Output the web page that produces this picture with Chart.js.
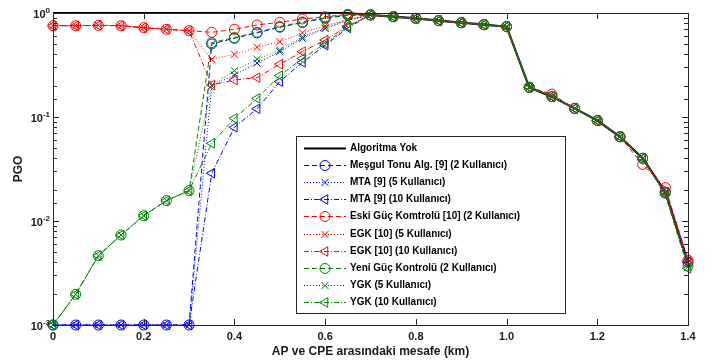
<!DOCTYPE html>
<html>
<head>
<meta charset="utf-8">
<script src="https://cdn.jsdelivr.net/npm/chart.js@4.4.1/dist/chart.umd.min.js"></script>
<style>
    html, body { margin: 0; padding: 0; background: #fff; }
    #wrap { width: 722px; height: 360px; }
</style>
</head>
<body>
<div id="wrap"><canvas id="pgo-chart" width="722" height="360"></canvas></div>
<script>
// AP - CPE distance (km)
const distances = [0, 0.05, 0.1, 0.15, 0.2, 0.25, 0.3, 0.35, 0.4, 0.45, 0.5, 0.55, 0.6, 0.65,
    0.7, 0.75, 0.8, 0.85, 0.9, 0.95, 1, 1.05, 1.1, 1.15, 1.2, 1.25, 1.3, 1.35, 1.4];
const xTickValues = [0, 0.2, 0.4, 0.6, 0.8, 1, 1.2, 1.4];
const yDecades = [0, -1, -2, -3];

// PGO values
const noAlgorithm = [1, 1, 1, 1, 1, 1, 1, 1, 1, 1, 1, 1, 1, 1,
    0.957, 0.922, 0.889, 0.844, 0.807, 0.772, 0.739, 0.193, 0.157, 0.121, 0.0925, 0.0646, 0.0401, 0.019, 0.0040];

const mtaUsers2 = [0.001, 0.001, 0.001, 0.001, 0.001, 0.001, 0.001, 0.504, 0.571, 0.645, 0.73, 0.81, 0.89, 0.95,
    0.957, 0.922, 0.889, 0.844, 0.807, 0.772, 0.739, 0.193, 0.157, 0.121, 0.0925, 0.0646, 0.0401, 0.019, 0.0040];
const mtaUsers5 = [0.001, 0.001, 0.001, 0.001, 0.001, 0.001, 0.001, 0.20, 0.253, 0.33, 0.425, 0.57, 0.71, 0.85,
    0.957, 0.922, 0.889, 0.844, 0.807, 0.772, 0.739, 0.193, 0.157, 0.121, 0.0925, 0.0646, 0.0401, 0.019, 0.0040];
const mtaUsers10 = [0.001, 0.001, 0.001, 0.001, 0.001, 0.001, 0.001, 0.0288, 0.0796, 0.12, 0.219, 0.335, 0.49, 0.72,
    0.957, 0.922, 0.889, 0.844, 0.807, 0.772, 0.739, 0.193, 0.157, 0.121, 0.0925, 0.0646, 0.0401, 0.019, 0.0040];

const egkUsers2 = [0.755, 0.755, 0.761, 0.755, 0.723, 0.697, 0.676, 0.652, 0.697, 0.767, 0.815, 0.876, 0.92, 0.97,
    0.96, 0.922, 0.889, 0.844, 0.807, 0.772, 0.739, 0.193, 0.166, 0.121, 0.0925, 0.0646, 0.035, 0.021, 0.0042];
const egkUsers5 = [0.755, 0.755, 0.761, 0.755, 0.723, 0.697, 0.676, 0.359, 0.401, 0.468, 0.53, 0.645, 0.75, 0.87,
    0.957, 0.922, 0.889, 0.844, 0.807, 0.772, 0.739, 0.193, 0.157, 0.121, 0.0925, 0.0646, 0.0401, 0.019, 0.0040];
const egkUsers10 = [0.755, 0.755, 0.761, 0.755, 0.723, 0.697, 0.676, 0.203, 0.227, 0.239, 0.322, 0.425, 0.55, 0.75,
    0.957, 0.922, 0.889, 0.844, 0.807, 0.772, 0.739, 0.193, 0.157, 0.121, 0.0925, 0.0646, 0.0401, 0.019, 0.0041];

const ygkUsers2 = [0.001, 0.00197, 0.00464, 0.00733, 0.01125, 0.0157, 0.0196, 0.52, 0.58, 0.652, 0.74, 0.82, 0.90, 0.96,
    0.957, 0.922, 0.889, 0.844, 0.807, 0.772, 0.739, 0.193, 0.157, 0.121, 0.0925, 0.0646, 0.0401, 0.0185, 0.0037];
const ygkUsers5 = [0.001, 0.00197, 0.00464, 0.00733, 0.01125, 0.0157, 0.0196, 0.20, 0.279, 0.359, 0.441, 0.59, 0.72, 0.86,
    0.957, 0.922, 0.889, 0.844, 0.807, 0.772, 0.739, 0.193, 0.157, 0.121, 0.0925, 0.0646, 0.0401, 0.0182, 0.0036];
const ygkUsers10 = [0.001, 0.00197, 0.00464, 0.00733, 0.01125, 0.0157, 0.0196, 0.0558, 0.097, 0.151, 0.25, 0.365, 0.51, 0.74,
    0.957, 0.922, 0.889, 0.844, 0.807, 0.772, 0.739, 0.193, 0.157, 0.121, 0.0925, 0.0646, 0.0401, 0.0178, 0.0035];

const BLUE = '#0000ff', RED = '#ff0000', GREEN = '#008000';
const FONT = '"Liberation Sans", Arial, sans-serif';

// marker + line style per MATLAB spec ('--o', ':x', '-.<')
const lineKinds = {
    circle: { pointStyle: 'circle', dash: [5, 3], radius: 5, rotation: 0 },
    cross: { pointStyle: 'crossRot', dash: [1, 2], radius: 5, rotation: 0 },
    tri: { pointStyle: 'triangle', dash: [5, 2, 1, 2], radius: 5.5, rotation: -90 }
};

function makeSeries(label, values, color, kind, order) {
    const k = lineKinds[kind];
    return {
        label: label,
        data: distances.map((d, i) => ({ x: d, y: values[i] })),
        borderColor: color,
        borderWidth: 1,
        borderDash: k.dash,
        pointStyle: k.pointStyle,
        pointRotation: k.rotation,
        pointRadius: k.radius,
        pointBorderColor: color,
        pointBorderWidth: 1,
        pointBackgroundColor: 'rgba(0,0,0,0)',
        tension: 0,
        fill: false,
        clip: false,
        order: order
    };
}

const datasets = [
    {
        label: 'Algoritma Yok',
        data: distances.map((d, i) => ({ x: d, y: noAlgorithm[i] })),
        borderColor: '#000',
        borderWidth: 2.2,
        pointRadius: 0,
        tension: 0,
        fill: false,
        clip: false,
        order: 10
    },
    makeSeries('Meşgul Tonu Alg. [9] (2 Kullanıcı)', mtaUsers2, BLUE, 'circle', 9),
    makeSeries('MTA [9] (5 Kullanıcı)', mtaUsers5, BLUE, 'cross', 8),
    makeSeries('MTA [9] (10 Kullanıcı)', mtaUsers10, BLUE, 'tri', 7),
    makeSeries('Eski Güç Komtrolü [10] (2 Kullanıcı)', egkUsers2, RED, 'circle', 6),
    makeSeries('EGK [10] (5 Kullanıcı)', egkUsers5, RED, 'cross', 5),
    makeSeries('EGK [10] (10 Kullanıcı)', egkUsers10, RED, 'tri', 4),
    makeSeries('Yeni Güç Kontrolü (2 Kullanıcı)', ygkUsers2, GREEN, 'circle', 3),
    makeSeries('YGK (5 Kullanıcı)', ygkUsers5, GREEN, 'cross', 2),
    makeSeries('YGK (10 Kullanıcı)', ygkUsers10, GREEN, 'tri', 1)
];

// axes box, inward ticks, 10^n labels and the boxed legend
const matlabLook = {
    id: 'matlabLook',
    afterDraw(chart) {
        const { ctx, chartArea: a, scales: { x, y } } = chart;
        ctx.save();
        ctx.strokeStyle = '#262626';
        ctx.lineWidth = 1;
        ctx.setLineDash([]);
        ctx.strokeRect(a.left + 0.5, a.top + 0.5, a.right - a.left, a.bottom - a.top);

        ctx.beginPath();
        xTickValues.forEach(v => {
            const px = Math.round(x.getPixelForValue(v)) + 0.5;
            ctx.moveTo(px, a.bottom); ctx.lineTo(px, a.bottom - 6);
            ctx.moveTo(px, a.top); ctx.lineTo(px, a.top + 6);
        });
        y.ticks.forEach(t => {
            const lg = Math.log10(t.value);
            const len = Math.abs(lg - Math.round(lg)) < 1e-6 ? 6 : 4;
            const py = Math.round(y.getPixelForValue(t.value)) + 0.5;
            ctx.moveTo(a.left, py); ctx.lineTo(a.left + len, py);
            ctx.moveTo(a.right, py); ctx.lineTo(a.right - len, py);
        });
        ctx.stroke();

        // y labels as 10 with raised exponent
        ctx.fillStyle = '#1a1a1a';
        yDecades.forEach(p => {
            const py = y.getPixelForValue(Math.pow(10, p));
            const exp = String(p);
            ctx.font = 'bold 8px ' + FONT;
            const ew = ctx.measureText(exp).width;
            ctx.textAlign = 'left';
            ctx.textBaseline = 'middle';
            ctx.fillText(exp, 50 - ew, py - 2);
            ctx.font = 'bold 11px ' + FONT;
            ctx.textAlign = 'right';
            ctx.fillText('10', 50 - ew, py + 2);
        });

        // legend
        const bx = a.left + 243, by = a.top + 123, bw = 269, bh = 177;
        ctx.fillStyle = '#fff';
        ctx.fillRect(bx, by, bw, bh);
        ctx.strokeStyle = '#262626';
        ctx.strokeRect(bx + 0.5, by + 0.5, bw, bh);
        chart.data.datasets.forEach((ds, i) => {
            const ly = Math.round(by + 11.5 + i * 17.2) + 0.5;
            ctx.strokeStyle = ds.borderColor;
            ctx.lineWidth = ds.borderWidth;
            ctx.setLineDash(ds.borderDash || []);
            ctx.beginPath();
            ctx.moveTo(bx + 8, ly);
            ctx.lineTo(bx + 50, ly);
            ctx.stroke();
            ctx.setLineDash([]);
            if (ds.pointRadius > 0) {
                ctx.lineWidth = 1;
                ctx.fillStyle = 'rgba(0,0,0,0)';
                Chart.helpers.drawPoint(ctx, {
                    pointStyle: ds.pointStyle,
                    rotation: ds.pointRotation,
                    radius: ds.pointRadius,
                    borderWidth: 1
                }, bx + 29, ly);
            }
            ctx.fillStyle = '#000';
            ctx.font = 'bold 10px ' + FONT;
            ctx.textAlign = 'left';
            ctx.textBaseline = 'middle';
            ctx.fillText(ds.label, bx + 54, ly);
        });
        ctx.restore();
    }
};

document.addEventListener("DOMContentLoaded", function() {
    const ctx = document.getElementById('pgo-chart').getContext('2d');
    new Chart(ctx, {
        type: 'line',
        data: { datasets: datasets },
        options: {
            responsive: false,
            animation: false,
            events: [],
            layout: { padding: { top: 13, right: 34, left: 0, bottom: 0 } },
            plugins: {
                legend: { display: false },
                tooltip: { enabled: false }
            },
            scales: {
                x: {
                    type: 'linear',
                    min: 0,
                    max: 1.4,
                    grid: { display: false, drawTicks: false },
                    border: { display: false },
                    ticks: {
                        stepSize: 0.2,
                        maxRotation: 0,
                        padding: 5,
                        color: '#1a1a1a',
                        font: { family: FONT, size: 11, weight: 'bold' }
                    },
                    title: {
                        display: true,
                        text: 'AP ve CPE arasındaki mesafe (km)',
                        color: '#1a1a1a',
                        padding: { top: 0, bottom: 1 },
                        font: { family: FONT, size: 12, weight: 'bold' }
                    },
                    afterFit: s => { s.height = 35; }
                },
                y: {
                    type: 'logarithmic',
                    min: 0.001,
                    max: 1,
                    grid: { display: false, drawTicks: false },
                    border: { display: false },
                    ticks: { display: false, autoSkip: false },
                    title: {
                        display: true,
                        text: 'PGO',
                        color: '#1a1a1a',
                        padding: { top: 11, bottom: 0 },
                        font: { family: FONT, size: 12, weight: 'bold' }
                    },
                    afterFit: s => { s.width = 53; }
                }
            }
        },
        plugins: [matlabLook]
    });
});
</script>
</body>
</html>
